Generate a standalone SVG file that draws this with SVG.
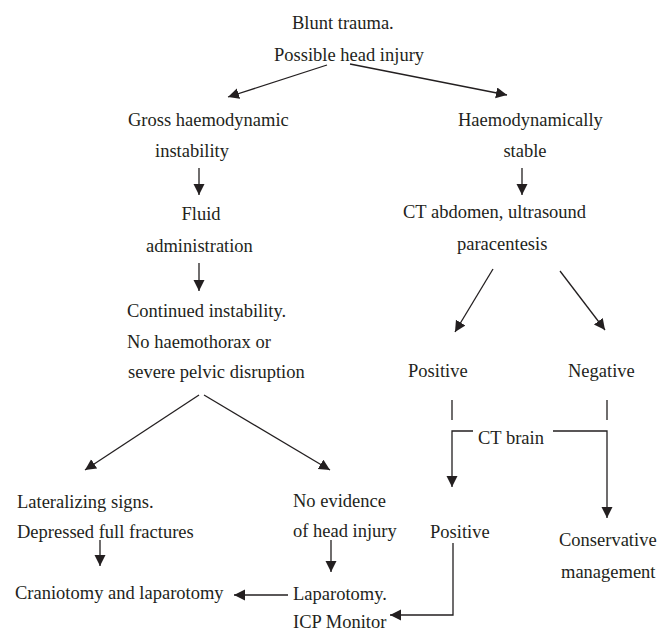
<svg xmlns="http://www.w3.org/2000/svg" width="657" height="630" viewBox="0 0 657 630">
<defs>
<marker id="ah" markerUnits="userSpaceOnUse" markerWidth="12" markerHeight="12" refX="11" refY="5.5" orient="auto">
<path d="M0,0 L11,5.5 L0,11 z" fill="#231f20"/>
</marker>
<style>
text{font-family:"Liberation Serif","Times New Roman",serif;font-size:18.5px;fill:#231f20}
.c{text-anchor:middle}
.ln{fill:none;stroke:#231f20;stroke-width:1.3}
.ar{marker-end:url(#ah)}
</style>
</defs>
<rect width="657" height="630" fill="#fff"/>
<g id="connectors">
<line class="ln ar" x1="327" y1="65" x2="228" y2="97"/>
<line class="ln ar" x1="350" y1="64" x2="507" y2="95"/>
<line class="ln ar" x1="199" y1="168" x2="199" y2="195"/>
<line class="ln ar" x1="199" y1="263" x2="199" y2="291"/>
<line class="ln ar" x1="522" y1="168" x2="522" y2="195"/>
<line class="ln ar" x1="493" y1="269" x2="455" y2="332"/>
<line class="ln ar" x1="560" y1="271" x2="605" y2="330"/>
<line class="ln ar" x1="199" y1="395" x2="85" y2="470"/>
<line class="ln ar" x1="204" y1="395" x2="330" y2="470"/>
<line class="ln ar" x1="100" y1="540" x2="100" y2="566"/>
<line class="ln ar" x1="331" y1="540" x2="331" y2="572"/>
<line class="ln ar" x1="288" y1="595" x2="234" y2="595"/>
<line class="ln" x1="452" y1="400" x2="452" y2="420"/>
<line class="ln" x1="607" y1="400" x2="607" y2="420"/>
<polyline class="ln ar" points="473,431 452,431 452,487"/>
<polyline class="ln ar" points="553,431 607,431 607,518"/>
<polyline class="ln ar" points="453,543 453,615 390,615"/>
</g>
<g id="n-blunt"><text x="292" y="29">Blunt trauma.</text><text x="274" y="61">Possible head injury</text></g>
<g id="n-gross"><text x="128" y="126">Gross haemodynamic</text><text x="155" y="157">instability</text></g>
<g id="n-fluid"><text class="c" x="201" y="220">Fluid</text><text x="146" y="252">administration</text></g>
<g id="n-continued"><text x="127" y="317">Continued instability.</text><text x="127" y="348">No haemothorax or</text><text x="128" y="378">severe pelvic disruption</text></g>
<g id="n-stable"><text x="458" y="126">Haemodynamically</text><text class="c" x="525" y="157">stable</text></g>
<g id="n-ct"><text x="403" y="218">CT abdomen, ultrasound</text><text x="457" y="250">paracentesis</text></g>
<g id="n-pos1"><text x="408" y="377">Positive</text></g>
<g id="n-neg"><text x="568" y="377">Negative</text></g>
<g id="n-ctbrain"><text x="478" y="444">CT brain</text></g>
<g id="n-lat"><text x="17" y="508">Lateralizing signs.</text><text x="17" y="538">Depressed full fractures</text></g>
<g id="n-noev"><text x="293" y="507">No evidence</text><text x="293" y="537">of head injury</text></g>
<g id="n-pos2"><text x="430" y="538">Positive</text></g>
<g id="n-cons"><text x="559" y="546">Conservative</text><text x="561" y="578">management</text></g>
<g id="n-cranio"><text x="15" y="599">Craniotomy and laparotomy</text></g>
<g id="n-lap"><text x="293" y="600">Laparotomy.</text><text x="293" y="628">ICP Monitor</text></g>
</svg>
